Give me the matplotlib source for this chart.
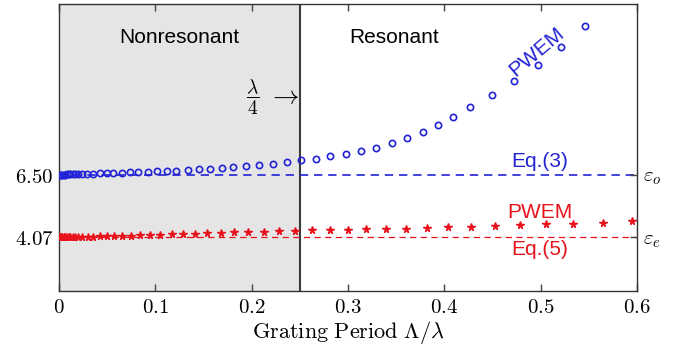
import numpy as np
import matplotlib.pyplot as plt

plt.rcParams['mathtext.fontset'] = 'cm'

# PWEM, ordinary (blue)
x_o = [0.000, 0.001, 0.002, 0.0033, 0.0047, 0.0062, 0.0080, 0.0099, 0.0119, 0.0145,
       0.0171, 0.0200, 0.0236, 0.0294, 0.0356, 0.0426, 0.0495, 0.0564, 0.0651, 0.0737,
       0.0824, 0.0921, 0.1014, 0.1118, 0.1215, 0.1336, 0.1450, 0.1568, 0.1689, 0.1809,
       0.1944, 0.2079, 0.2218, 0.2364, 0.2509, 0.2665, 0.2816, 0.2976, 0.3132, 0.3294,
       0.3454, 0.3613, 0.3776, 0.3934, 0.4093, 0.4267, 0.4492, 0.4727, 0.4969, 0.5208,
       0.5460]
eps_o_pwem = [6.500, 6.500, 6.501, 6.502, 6.503, 6.505, 6.507, 6.509, 6.511, 6.515,
              6.518, 6.522, 6.527, 6.535, 6.543, 6.552, 6.561, 6.571, 6.583, 6.596,
              6.608, 6.620, 6.632, 6.643, 6.658, 6.680, 6.702, 6.728, 6.755, 6.782,
              6.818, 6.860, 6.920, 6.990, 7.051, 7.117, 7.206, 7.298, 7.399, 7.541,
              7.707, 7.915, 8.131, 8.401, 8.748, 9.134, 9.585, 10.137, 10.742, 11.448,
              12.258]

# PWEM, extraordinary (red)
x_e = [0.000, 0.001, 0.0021, 0.0033, 0.0047, 0.0062, 0.0080, 0.0099, 0.0119, 0.0145,
       0.0171, 0.0197, 0.0244, 0.0296, 0.0358, 0.0426, 0.0495, 0.0573, 0.0659, 0.0747,
       0.0844, 0.0945, 0.1052, 0.1168, 0.1290, 0.1412, 0.1540, 0.1677, 0.1820, 0.1967,
       0.2128, 0.2287, 0.2453, 0.2629, 0.2813, 0.2995, 0.3192, 0.3395, 0.3602, 0.3817,
       0.4043, 0.4280, 0.4523, 0.4785, 0.5055, 0.5339, 0.5644, 0.5951]
eps_e_pwem = [4.070, 4.070, 4.071, 4.072, 4.073, 4.074, 4.076, 4.078, 4.080, 4.083,
              4.086, 4.089, 4.094, 4.100, 4.106, 4.113, 4.120, 4.128, 4.137, 4.146,
              4.156, 4.166, 4.177, 4.190, 4.205, 4.220, 4.236, 4.252, 4.268, 4.284,
              4.300, 4.315, 4.330, 4.342, 4.355, 4.368, 4.382, 4.398, 4.415, 4.435,
              4.457, 4.480, 4.510, 4.545, 4.575, 4.605, 4.630, 4.695]

eps_o = 6.50   # Eq.(3)
eps_e = 4.07   # Eq.(5)
boundary = 0.25

xticks = [0, 0.1, 0.2, 0.3, 0.4, 0.5, 0.6]
xticklabels = ['$0$', '$0.1$', '$0.2$', '$0.3$', '$0.4$', '$0.5$', '$0.6$']

blue = '#2222d6'
red = '#e8121c'
sans = 'Liberation Sans'

fig = plt.figure(figsize=(6.78, 3.53), dpi=100)
ax = fig.add_axes([0.087, 0.1756, 0.8525, 0.8131])

ax.axvspan(0, boundary, color='#e5e5e5', zorder=0, lw=0)
ax.axvline(boundary, color='#3a3a3a', lw=1.5, zorder=1)

ax.axhline(eps_o, color=blue, ls=(0, (5, 3.5)), lw=1.2, zorder=2)
ax.axhline(eps_e, color=red, ls=(0, (5, 3.5)), lw=0.9, zorder=2)

ax.plot(x_o, eps_o_pwem, 'o', mfc='none', mec=blue, ms=4.5, mew=1.2, zorder=3)
ax.plot(x_e, eps_e_pwem, '*', color=red, ms=5.5, mew=1.0, zorder=3)

ax.set_xlim(0, 0.6)
ax.set_ylim(2.0, 13.1)
ax.set_xticks(xticks)
ax.set_xticklabels(xticklabels, fontsize=15)
ax.set_yticks([eps_o, eps_e])
ax.set_yticklabels(['$6.50$', '$4.07$'], fontsize=15)
ax.tick_params(direction='in', top=True, length=5, width=1, color='#444444', pad=4)
ax.set_xlabel(r'$\mathrm{Grating\ Period}\ \Lambda/\lambda$', fontsize=16, labelpad=2)
for s in ax.spines.values():
    s.set_color('#333333')
    s.set_linewidth(1.0)

ax2 = ax.twinx()
ax2.set_ylim(ax.get_ylim())
ax2.set_yticks([eps_o, eps_e])
ax2.set_yticklabels([r'$\varepsilon_o$', r'$\varepsilon_e$'], fontsize=15)
ax2.tick_params(direction='in', length=5, width=1, color='#444444', pad=4)
for s in ax2.spines.values():
    s.set_visible(False)

ax.text(0.125, 11.82, 'Nonresonant', fontsize=15, family=sans, ha='center', va='center')
ax.text(0.348, 11.82, 'Resonant', fontsize=15, family=sans, ha='center', va='center')
ax.text(0.2015, 9.47, r'$\dfrac{\lambda}{4}$', fontsize=14, ha='center', va='center')
ax.text(0.2495, 9.55, r'$\rightarrow$', fontsize=19, ha='right', va='center')

ax.text(0.496, 11.25, 'PWEM', fontsize=15, family=sans, color=blue, rotation=40,
        ha='center', va='center')
ax.text(0.4995, 7.0, 'Eq.(3)', fontsize=15, family=sans, color=blue, ha='center', va='center')
ax.text(0.4995, 5.02, 'PWEM', fontsize=15, family=sans, color=red, ha='center', va='center')
ax.text(0.4995, 3.61, 'Eq.(5)', fontsize=15, family=sans, color=red, ha='center', va='center')

fig.savefig('out.png', dpi=100)
